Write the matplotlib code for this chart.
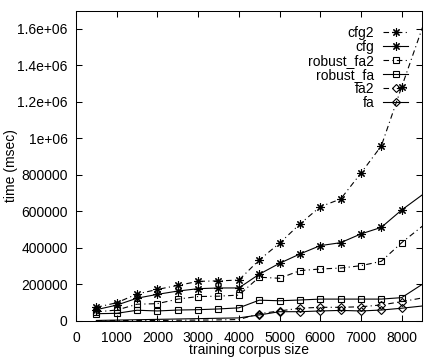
import matplotlib
matplotlib.use('Agg')
import matplotlib.pyplot as plt

# training corpus sizes (last point lies beyond the x range, the lines run off the frame)
sizes = [500, 1000, 1500, 2000, 2500, 3000, 3500, 4000, 4500,
         5000, 5500, 6000, 6500, 7000, 7500, 8000, 9000]

# time in msec
cfg2 = [75e3, 100e3, 148e3, 173e3, 195e3, 217e3, 220e3, 224e3, 334e3,
        426e3, 531e3, 626e3, 668e3, 810e3, 959e3, 1282e3, 1920e3]
cfg = [62e3, 87e3, 125e3, 146e3, 164e3, 177e3, 181e3, 181e3, 256e3,
       316e3, 367e3, 413e3, 429e3, 477e3, 513e3, 608e3, 772e3]
robust_fa2 = [50e3, 60e3, 92e3, 95e3, 120e3, 134e3, 136e3, 142e3, 240e3,
              234e3, 276e3, 285e3, 290e3, 303e3, 327e3, 429e3, 607e3]
robust_fa = [40e3, 42e3, 59e3, 55e3, 60e3, 62e3, 66e3, 72e3, 114e3,
             111e3, 115e3, 120e3, 120e3, 120e3, 120e3, 128e3, 272e3]
fa2 = [2e3, 2e3, 3e3, 3e3, 4e3, 5e3, 6e3, 8e3, 40e3,
       55e3, 70e3, 75e3, 75e3, 78e3, 88e3, 106e3, 146e3]
fa = [3e3, 5e3, 7e3, 9e3, 11e3, 13e3, 15e3, 17e3, 33e3,
      51e3, 51e3, 55e3, 58e3, 55e3, 60e3, 70e3, 94e3]

xticks = [0, 1000, 2000, 3000, 4000, 5000, 6000, 7000, 8000]
yticks = [0, 200000, 400000, 600000, 800000, 1000000, 1200000, 1400000, 1600000]
ytick_labels = ['0', '200000', '400000', '600000', '800000',
                '1e+06', '1.2e+06', '1.4e+06', '1.6e+06']

plt.rcParams['font.family'] = ['Liberation Sans', 'DejaVu Sans']
plt.rcParams['font.size'] = 10

fig = plt.figure(figsize=(4.26, 3.58), dpi=100)
ax = fig.add_axes([76 / 426, 1 - 321 / 358, 346 / 426, 310.3 / 358])

dashdot = (0, (5, 3, 1, 3))
asterisk = (8, 2, 0)
# the fa points that sit on the x axis show no visible markers
fa_marks = list(range(8, len(sizes)))

ax.plot(sizes, cfg2, color='black', lw=0.8, ls=dashdot, marker=asterisk, ms=6, mew=0.8, label='cfg2')
ax.plot(sizes, cfg, color='black', lw=0.8, ls='-', marker=asterisk, ms=6, mew=0.8, label='cfg')
ax.plot(sizes, robust_fa2, color='black', lw=0.8, ls=dashdot, marker='s', ms=4.8, mew=0.8,
        mfc='none', label='robust_fa2')
ax.plot(sizes, robust_fa, color='black', lw=0.8, ls='-', marker='s', ms=4.8, mew=0.8,
        mfc='none', label='robust_fa')
ax.plot(sizes, fa2, color='black', lw=0.8, ls=dashdot, marker='D', ms=3.8, mew=0.8,
        mfc='none', markevery=fa_marks, label='fa2')
ax.plot(sizes, fa, color='black', lw=0.8, ls='-', marker='D', ms=3.8, mew=0.8,
        mfc='none', markevery=fa_marks, label='fa')

ax.set_xlim(0, 8500)
ax.set_ylim(0, 1.7e6)
ax.set_xticks(xticks)
ax.set_yticks(yticks)
ax.set_yticklabels(ytick_labels)
ax.tick_params(direction='in', top=True, right=True, length=4.5, width=0.75)
ax.tick_params(axis='y', pad=6)
ax.tick_params(axis='x', pad=7)
for s in ax.spines.values():
    s.set_linewidth(0.75)

ax.set_xlabel('training corpus size', labelpad=-1)
ax.set_ylabel('time (msec)', labelpad=-0.5)

ax.legend(loc='upper right', bbox_to_anchor=(0.96, 0.951), frameon=False, markerfirst=False,
          handlelength=1.8, handletextpad=0.65, labelspacing=0, borderpad=0,
          borderaxespad=0, numpoints=1)

fig.savefig('out.png', dpi=100)
